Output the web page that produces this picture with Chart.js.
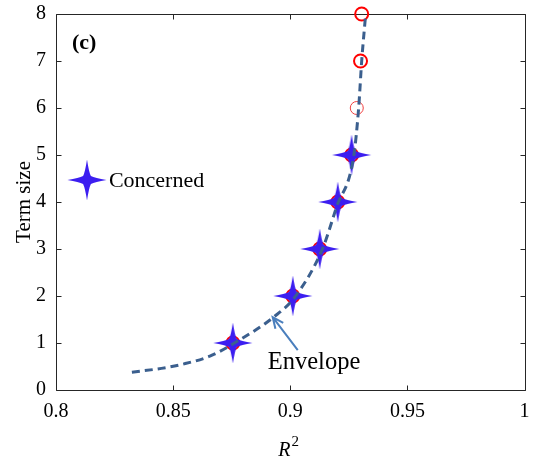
<!DOCTYPE html>
<html>
<head>
<meta charset="utf-8">
<script src="https://cdn.jsdelivr.net/npm/chart.js@4/dist/chart.umd.min.js"></script>
<style>
html,body{margin:0;padding:0;background:#fff;}
#wrap{width:533px;height:461px;}
</style>
</head>
<body>
<div id="wrap"><canvas id="c" width="533" height="461"></canvas></div>
<script>
// ---- data ----
const termSizes = [1, 2, 3, 4, 5, 6, 7, 8];
const allR2 = [0.8755, 0.9011, 0.9126, 0.9203, 0.9262, 0.9284, 0.9300, 0.9305];
const concernedTerms = [1, 2, 3, 4, 5];
const concernedR2 = [0.8755, 0.9011, 0.9126, 0.9203, 0.9262];
const envelopeR2 = [0.8324, 0.845, 0.8542, 0.8657, 0.8755, 0.8934, 0.902, 0.9139, 0.9198, 0.9271, 0.9292, 0.9305, 0.9322];
const envelopeTerm = [0.38, 0.46, 0.55, 0.72, 0.98, 1.57, 1.98, 3.02, 3.9, 4.98, 6, 7, 8];
const xTickValues = [0.8, 0.85, 0.9, 0.95, 1];
const xTickLabels = ['0.8', '0.85', '0.9', '0.95', '1'];
const yTickValues = [0, 1, 2, 3, 4, 5, 6, 7, 8];
const yTickLabels = ['0', '1', '2', '3', '4', '5', '6', '7', '8'];

const SERIF = "'Liberation Serif', 'Times New Roman', serif";
const STAR = '#3c1ef0';
const LINE = '#3b5f8e';
const ARROW = '#4a7fbd';

Chart.defaults.font.family = SERIF;

// four-pointed star marker
function makeStar() {
  const cv = document.createElement('canvas');
  cv.width = 44; cv.height = 44;
  const g = cv.getContext('2d');
  g.translate(22, 22);
  const V = 20.5, H = 19.5, r = 3.9, c = 1.9;
  g.beginPath();
  g.moveTo(0, -V);
  g.quadraticCurveTo(c, -(r + 4), r, -r);
  g.quadraticCurveTo(r + 4, -c, H, 0);
  g.quadraticCurveTo(r + 4, c, r, r);
  g.quadraticCurveTo(c, r + 4, 0, V);
  g.quadraticCurveTo(-c, r + 4, -r, r);
  g.quadraticCurveTo(-(r + 4), c, -H, 0);
  g.quadraticCurveTo(-(r + 4), -c, -r, -r);
  g.quadraticCurveTo(-c, -(r + 4), 0, -V);
  g.closePath();
  g.fillStyle = STAR;
  g.fill();
  return cv;
}
const starImg = makeStar();

const toXY = (xs, ys) => xs.map((x, i) => ({x: x, y: ys[i]}));

const decor = {
  id: 'decor',
  beforeDatasetsDraw(chart) {
    const {ctx, chartArea: a, scales: {x, y}} = chart;
    ctx.save();
    ctx.strokeStyle = '#262626';
    ctx.lineWidth = 1;
    ctx.beginPath();
    const L = Math.round(a.left) + 0.5, R = Math.round(a.right) + 0.5;
    const T = Math.round(a.top) + 0.5, B = Math.round(a.bottom) + 0.5;
    ctx.rect(L, T, R - L, B - T);
    const tl = 5;
    xTickValues.forEach(v => {
      const px = Math.round(x.getPixelForValue(v)) + 0.5;
      ctx.moveTo(px, B); ctx.lineTo(px, B - tl);
      ctx.moveTo(px, T); ctx.lineTo(px, T + tl);
    });
    yTickValues.forEach(v => {
      const py = Math.round(y.getPixelForValue(v)) + 0.5;
      ctx.moveTo(L, py); ctx.lineTo(L + tl, py);
      ctx.moveTo(R, py); ctx.lineTo(R - tl, py);
    });
    ctx.stroke();
    ctx.restore();
  },
  afterDraw(chart) {
    const {ctx, chartArea: a, scales: {x, y}} = chart;
    ctx.save();
    ctx.fillStyle = '#000';
    // axis titles
    ctx.textBaseline = 'alphabetic';
    ctx.textAlign = 'left';
    ctx.font = 'italic 20px ' + SERIF;
    const rx = (a.left + a.right) / 2 - 12;
    ctx.fillText('R', rx, 456);
    const rw = ctx.measureText('R').width;
    ctx.font = '15px ' + SERIF;
    ctx.fillText('2', rx + rw + 1, 446);

    ctx.save();
    ctx.translate(30, (a.top + a.bottom) / 2);
    ctx.rotate(-Math.PI / 2);
    ctx.textAlign = 'center';
    ctx.font = '21px ' + SERIF;
    ctx.fillText('Term size', 0, 0);
    ctx.restore();

    // panel label
    ctx.font = 'bold 22px ' + SERIF;
    ctx.textAlign = 'left';
    ctx.textBaseline = 'middle';
    ctx.fillText('(c)', x.getPixelForValue(0.8068), y.getPixelForValue(7.38));

    // legend
    const lx = x.getPixelForValue(0.8132), ly = y.getPixelForValue(4.47);
    ctx.drawImage(starImg, Math.round(lx) - 22, Math.round(ly) - 22);
    ctx.font = '22px ' + SERIF;
    ctx.fillText('Concerned', lx + 22, ly + 1);

    // Envelope annotation
    ctx.textBaseline = 'alphabetic';
    ctx.font = '24.5px ' + SERIF;
    ctx.fillText('Envelope', x.getPixelForValue(0.8904), y.getPixelForValue(0.45));
    const tx = x.getPixelForValue(0.9032), ty = y.getPixelForValue(0.85);
    const hx = x.getPixelForValue(0.8925), hy = y.getPixelForValue(1.55);
    ctx.strokeStyle = ARROW;
    ctx.lineWidth = 2;
    ctx.beginPath();
    ctx.moveTo(tx, ty); ctx.lineTo(hx, hy);
    const ang = Math.atan2(hy - ty, hx - tx);
    const al = 12, aw = 0.42;
    ctx.moveTo(hx - al * Math.cos(ang - aw), hy - al * Math.sin(ang - aw));
    ctx.lineTo(hx, hy);
    ctx.lineTo(hx - al * Math.cos(ang + aw), hy - al * Math.sin(ang + aw));
    ctx.stroke();
    ctx.restore();
  }
};

new Chart(document.getElementById('c'), {
  type: 'scatter',
  data: {
    datasets: [
      {
        label: 'Envelope',
        data: toXY(envelopeR2, envelopeTerm),
        showLine: true,
        borderColor: LINE,
        borderWidth: 3,
        borderDash: [8, 5],
        pointRadius: 0,
        cubicInterpolationMode: 'monotone',
        fill: false,
        order: 0,
        clip: false
      },
      {
        label: 'Concerned',
        data: toXY(concernedR2, concernedTerms),
        pointStyle: starImg,
        showLine: false,
        order: 1,
        clip: false
      },
      {
        label: 'All',
        data: toXY(allR2, termSizes),
        pointStyle: 'circle',
        pointRadius: 6.5,
        pointBorderWidth: [2, 2, 2, 2, 2, 1, 2, 2],
        pointBorderColor: ['#ff0000', '#ff0000', '#ff0000', '#ff0000', '#ff0000', '#f04040', '#ff0000', '#ff0000'],
        pointBackgroundColor: 'rgba(0,0,0,0)',
        showLine: false,
        order: 2,
        clip: false
      }
    ]
  },
  options: {
    responsive: false,
    animation: false,
    devicePixelRatio: 1,
    layout: {padding: {left: 0, right: 8, top: 14, bottom: 0}},
    plugins: {legend: {display: false}, tooltip: {enabled: false}},
    scales: {
      x: {
        type: 'linear', min: 0.8, max: 1,
        afterBuildTicks: s => { s.ticks = xTickValues.map(v => ({value: v})); },
        afterFit: s => { s.height = 71; s.paddingLeft = 0; s.paddingRight = 0; },
        grid: {display: false, drawTicks: false},
        border: {display: false},
        ticks: {
          padding: 10,
          color: '#000',
          font: {family: SERIF, size: 20},
          maxRotation: 0,
          autoSkip: false,
          callback: (v) => { const i = xTickValues.findIndex(t => Math.abs(t - v) < 1e-9); return i >= 0 ? xTickLabels[i] : ''; }
        }
      },
      y: {
        type: 'linear', min: 0, max: 8,
        afterBuildTicks: s => { s.ticks = yTickValues.map(v => ({value: v})); },
        afterFit: s => { s.width = 56; s.paddingTop = 0; s.paddingBottom = 0; },
        grid: {display: false, drawTicks: false},
        border: {display: false},
        ticks: {
          padding: 10,
          color: '#000',
          font: {family: SERIF, size: 20},
          autoSkip: false,
          callback: (v) => { const i = yTickValues.indexOf(v); return i >= 0 ? yTickLabels[i] : ''; }
        }
      }
    }
  },
  plugins: [decor]
});
</script>
</body>
</html>
